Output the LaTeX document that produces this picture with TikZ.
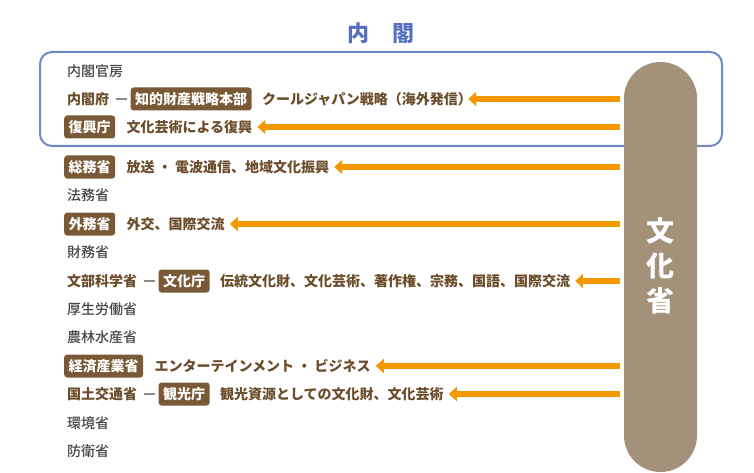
\documentclass[tikz,border=0pt]{standalone}
\usepackage{fontspec}
\setmainfont{Noto Sans CJK JP}
\newfontfamily\medfont{Noto Sans CJK JP Medium}
\usetikzlibrary{arrows.meta}
\definecolor{boxblue}{HTML}{7089C9}
\definecolor{titleblue}{HTML}{5670C0}
\definecolor{badgebrown}{HTML}{7A5A36}
\definecolor{descbrown}{HTML}{6B4D2C}
\definecolor{mingray}{HTML}{464646}
\definecolor{arrorange}{HTML}{F39800}
\definecolor{pillbrown}{HTML}{A39279}
\definecolor{dashgray}{HTML}{8A8A8A}
\begin{document}
\begin{tikzpicture}[x=1pt,y=-1pt,
  txtbase/.style={inner sep=0pt, text height=12.3pt, text depth=1.7pt, anchor=west},
  plain/.style={txtbase, text=mingray, font=\fontsize{14pt}{16pt}\selectfont\medfont},
  keymin/.style={txtbase, text=descbrown, font=\fontsize{14pt}{16pt}\selectfont\bfseries},
  desc/.style={txtbase, text=descbrown, font=\fontsize{14pt}{16pt}\selectfont\bfseries},
  badge/.style={fill=badgebrown, text=white, rounded corners=3pt, inner xsep=4.5pt, inner ysep=0pt,
    minimum height=23pt, text height=12.3pt, text depth=1.7pt, anchor=west,
    font=\fontsize{14pt}{16pt}\selectfont\bfseries},
  arr/.style={draw=arrorange, line width=6pt, -{Triangle[length=8pt,width=14pt]}, shorten >=5pt, shorten <=4pt},
  dashc/.style={draw=dashgray, line width=1.2pt, shorten <=7pt, shorten >=3pt}
]
\useasboundingbox (0,0) rectangle (754,473);

% title
\node[text=titleblue, font=\fontsize{22pt}{24pt}\selectfont\bfseries, inner sep=0pt] (title) at (381,33) {内\hspace{24pt}閣};

% cabinet box
\draw[boxblue, line width=2pt, rounded corners=12pt] (40,52) rectangle (722,146);

% agency pill
\node[fill=pillbrown, rounded corners=36.5pt, minimum width=73pt, minimum height=410pt, inner sep=0pt] (pill) at (660.5,267) {};
\node[text=white, font=\fontsize{28pt}{35pt}\selectfont\bfseries, align=center, inner sep=0pt] (pilltext) at (660.5,266) {文\\化\\省};

% rows
\node[plain] (m1) at (67,71) {内閣官房};

\node[keymin] (m2) at (67,99) {内閣府};
\node[badge] (b2) at ([xshift=21pt]m2.east) {知的財産戦略本部};
\node[desc] (d2) at ([xshift=10pt]b2.east) {クールジャパン戦略（海外発信）};
\draw[dashc] (m2.east) -- (b2.west);

\node[badge] (b3) at (64,127) {復興庁};
\node[desc] (d3) at ([xshift=11pt]b3.east) {文化芸術による復興};

\node[badge] (b4) at (64,167) {総務省};
\node[desc] (d4) at ([xshift=11pt]b4.east) {放送 ・ 電波通信、地域文化振興};

\node[plain] (m5) at (67,195) {法務省};

\node[badge] (b6) at (64,224) {外務省};
\node[desc] (d6) at ([xshift=11pt]b6.east) {外交、国際交流};

\node[plain] (m7) at (67,252) {財務省};

\node[keymin] (m8) at (67,281) {文部科学省};
\node[badge] (b8) at ([xshift=21pt]m8.east) {文化庁};
\node[desc] (d8) at ([xshift=10pt]b8.east) {伝統文化財、文化芸術、著作権、宗務、国語、国際交流};
\draw[dashc] (m8.east) -- (b8.west);

\node[plain] (m9) at (67,309) {厚生労働省};
\node[plain] (m10) at (67,337) {農林水産省};

\node[badge] (b11) at (64,366) {経済産業省};
\node[desc] (d11) at ([xshift=11pt]b11.east) {エンターテインメント ・ ビジネス};

\node[keymin] (m12) at (67,394) {国土交通省};
\node[badge] (b12) at ([xshift=21pt]m12.east) {観光庁};
\node[desc] (d12) at ([xshift=10pt]b12.east) {観光資源としての文化財、文化芸術};
\draw[dashc] (m12.east) -- (b12.west);

\node[plain] (m13) at (67,423) {環境省};
\node[plain] (m14) at (67,451) {防衛省};

% arrows
\draw[arr, shorten >=-4pt] (pill.west |- d2.east) -- (d2.east);
\foreach \d in {d3,d4,d6,d8,d11,d12}
  \draw[arr] (pill.west |- \d.east) -- (\d.east);
\end{tikzpicture}
\end{document}
